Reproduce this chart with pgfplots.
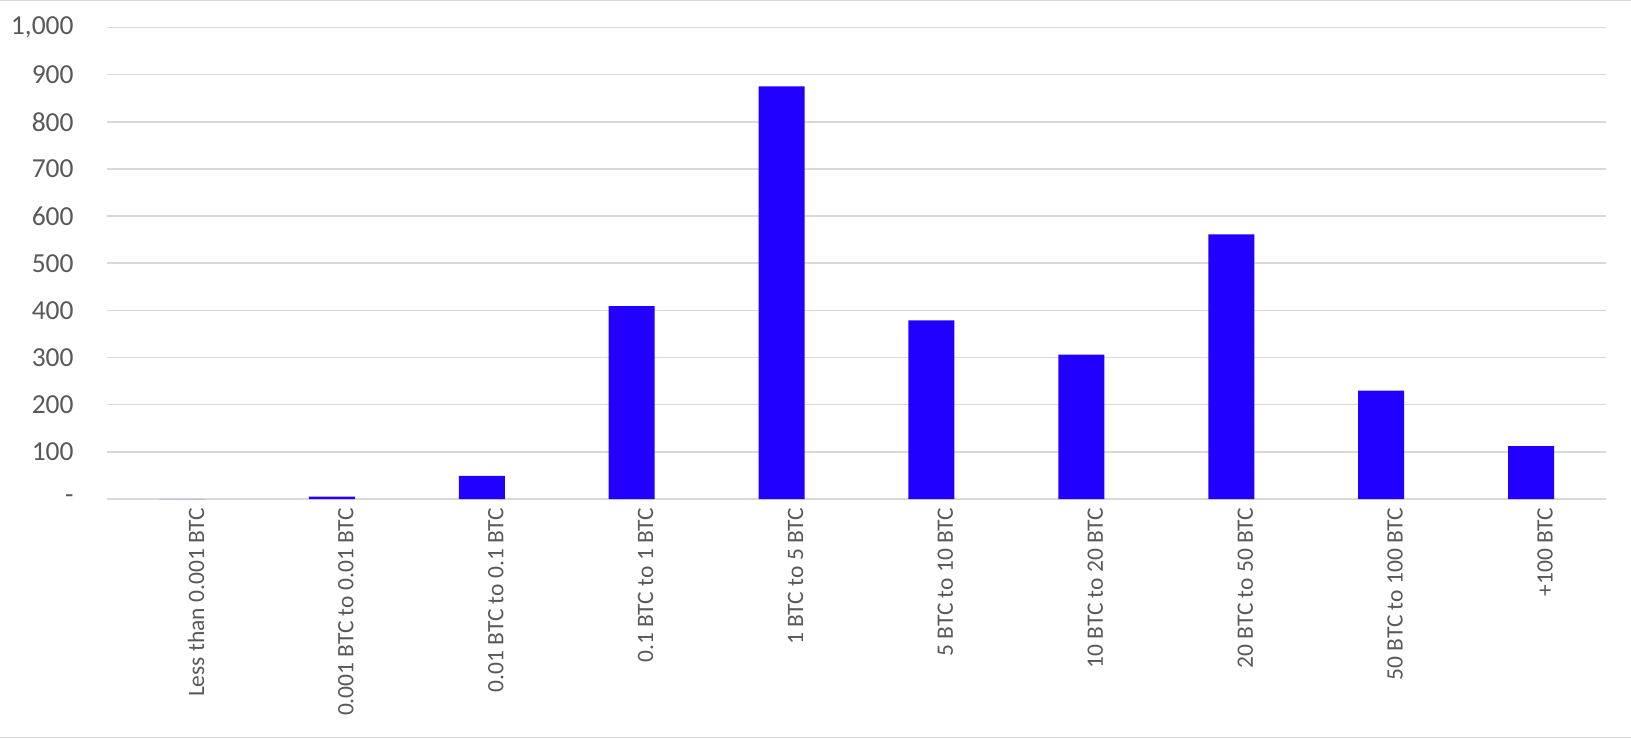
\documentclass[border=0pt]{standalone}
\usepackage{pgfplots}
\pgfplotsset{compat=1.18}
\usepackage{fontspec}
\setmainfont{Carlito}
\definecolor{barblue}{RGB}{34,0,255}
\definecolor{gridgray}{RGB}{217,217,217}
\definecolor{txtgray}{RGB}{89,89,89}
\begin{document}
\begin{tikzpicture}
\path[use as bounding box] (-53.5pt,-119.5pt) rectangle (762pt,249.5pt);
\draw[gridgray, line width=0.6pt] (-53.5pt,249.2pt) -- (762pt,249.2pt);
\draw[gridgray, line width=0.6pt] (-53.5pt,-119.2pt) -- (762pt,-119.2pt);
\begin{axis}[
  at={(0pt,0pt)}, anchor=south west,
  scale only axis,
  width=749.5pt, height=235.75pt,
  ymin=0, ymax=1000,
  xmin=-0.5, xmax=9.5,
  ybar, bar width=23pt,
  axis line style={draw=none},
  ymajorgrids, grid style={gridgray, line width=0.75pt},
  ytick={0,100,...,1000},
  yticklabels={{-\hspace{6pt}},100,200,300,400,500,600,700,800,900,{1,000}},
  xtick={0,...,9},
  xticklabels={Less than 0.001 BTC,0.001 BTC to 0.01 BTC,0.01 BTC to 0.1 BTC,0.1 BTC to 1 BTC,1 BTC to 5 BTC,5 BTC to 10 BTC,10 BTC to 20 BTC,20 BTC to 50 BTC,50 BTC to 100 BTC,+100 BTC},
  major tick style={draw=none},
  yticklabel style={font=\fontsize{13.75pt}{16pt}\selectfont, text=txtgray, inner sep=0pt, xshift=-16.5pt},
  xticklabel style={font=\fontsize{11.75pt}{14pt}\selectfont, text=txtgray, rotate=90, anchor=east, inner sep=0pt, yshift=-7pt},
  clip=false,
]
\addplot[fill=barblue, draw=none] coordinates {
  (0,0) (1,5) (2,49) (3,409) (4,875) (5,379) (6,306) (7,561) (8,230) (9,112)
};
\end{axis}
\end{tikzpicture}
\end{document}
